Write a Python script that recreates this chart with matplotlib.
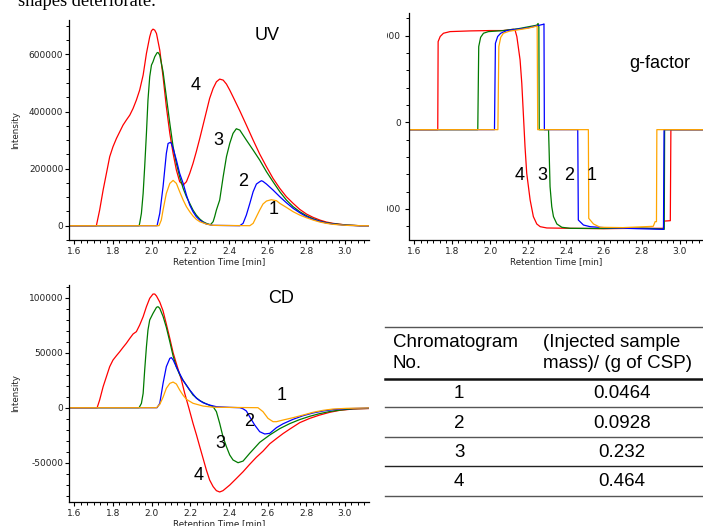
import matplotlib
matplotlib.use("Agg")
import matplotlib.pyplot as plt
from matplotlib.ticker import MultipleLocator, AutoMinorLocator, StrMethodFormatter
from matplotlib.transforms import Bbox, TransformedBbox
from matplotlib.lines import Line2D

plt.rcParams["axes.unicode_minus"] = False

# ---------------- data ----------------
# UV chromatograms (Retention time [min], Intensity)
uv4_t = [1.55, 1.714, 1.731, 1.749, 1.766, 1.783, 1.800, 1.818, 1.835, 1.852, 1.869, 1.887, 1.904,
         1.921, 1.938, 1.956, 1.973, 1.990, 1.999, 2.007, 2.016, 2.025, 2.042, 2.059, 2.076, 2.094,
         2.111, 2.128, 2.145, 2.163, 2.180, 2.197, 2.214, 2.231, 2.249, 2.266, 2.283, 2.300, 2.318,
         2.335, 2.352, 2.370, 2.387, 2.404, 2.421, 2.456, 2.490, 2.525, 2.559, 2.594, 2.628, 2.663,
         2.697, 2.732, 2.766, 2.801, 2.835, 2.870, 2.904, 2.939, 3.008, 3.077, 3.2]
uv4_i = [0, 0, 54800, 124900, 183200, 241600, 276600, 305800, 329100, 352400, 369900, 387400, 410800,
         440000, 475000, 527500, 603300, 661700, 682700, 688500, 685000, 673300, 615000, 521600, 416600,
         323300, 253200, 194900, 154000, 142400, 154000, 183200, 218200, 259100, 305800, 352400, 399100,
         445800, 480800, 504100, 513500, 510000, 496000, 475000, 451600, 402600, 352400, 300000, 250900,
         206600, 165700, 130700, 101500, 78200, 57200, 40800, 29200, 19800, 12800, 8200, 2300, 0, 0]

uv3_t = [1.55, 1.935, 1.938, 1.947, 1.956, 1.964, 1.973, 1.981, 1.990, 1.999, 2.007, 2.016, 2.028,
         2.033, 2.042, 2.059, 2.076, 2.094, 2.111, 2.128, 2.145, 2.163, 2.180, 2.197, 2.214, 2.231,
         2.249, 2.266, 2.283, 2.304, 2.318, 2.326, 2.335, 2.352, 2.370, 2.387, 2.404, 2.421, 2.438,
         2.456, 2.490, 2.525, 2.559, 2.594, 2.628, 2.663, 2.697, 2.732, 2.766, 2.801, 2.835, 2.870,
         2.904, 2.939, 3.008, 3.077, 3.2]
uv3_i = [0, 0, 8200, 43200, 113200, 206600, 323300, 440000, 521600, 562500, 574200, 591700, 605700,
         606800, 597500, 539200, 451600, 358300, 276600, 218200, 171500, 130700, 101500, 78200, 54800,
         37300, 23300, 14000, 8200, 3500, 14000, 31500, 54800, 89900, 171500, 241600, 288100, 323300,
         339600, 334900, 299900, 264900, 229900, 189100, 154000, 119000, 89900, 66500, 49000, 35000,
         24500, 16300, 10500, 7000, 2300, 0, 0]

uv2_t = [1.55, 2.028, 2.042, 2.059, 2.076, 2.085, 2.097, 2.102, 2.111, 2.128, 2.145, 2.163, 2.180,
         2.197, 2.214, 2.231, 2.249, 2.266, 2.283, 2.318, 2.456, 2.473, 2.490, 2.508, 2.525, 2.542,
         2.559, 2.568, 2.576, 2.594, 2.628, 2.663, 2.697, 2.732, 2.766, 2.801, 2.835, 2.870, 2.904,
         2.939, 3.008, 3.077, 3.2]
uv2_i = [0, 0, 43200, 136500, 253200, 288100, 291800, 288200, 270700, 229900, 183200, 148200, 107400,
         72400, 49000, 31500, 19800, 11700, 5800, 1200, 0, 8200, 37300, 78200, 119000, 145900,
         154000, 157500, 155200, 145900, 124900, 101500, 80500, 60700, 45500, 31500, 22200, 15200,
         9300, 5800, 1200, 0, 0]

uv1_t = [1.55, 2.038, 2.050, 2.059, 2.076, 2.094, 2.111, 2.128, 2.145, 2.163, 2.180, 2.197, 2.214,
         2.231, 2.249, 2.283, 2.318, 2.508, 2.525, 2.542, 2.559, 2.576, 2.594, 2.619, 2.646, 2.663,
         2.697, 2.732, 2.766, 2.801, 2.835, 2.870, 2.904, 2.939, 3.008, 3.077, 3.2]
uv1_i = [0, 0, 19800, 54800, 113200, 148200, 158700, 148200, 119000, 89900, 66500, 49000, 33800,
         22200, 14000, 5800, 1200, 0, 8200, 31500, 54800, 75900, 86400, 91000, 87500, 78200,
         64200, 49000, 37300, 28000, 19800, 12800, 8200, 4700, 1200, 0, 0]

# g-factor traces
g4_t = [1.55, 1.724, 1.726, 1.737, 1.754, 1.789, 1.895, 2.000, 2.070, 2.123, 2.132, 2.141, 2.158,
        2.167, 2.176, 2.184, 2.193, 2.202, 2.211, 2.228, 2.246, 2.264, 2.299, 2.422, 2.597, 2.773,
        2.914, 2.916, 2.950, 2.953, 3.2]
g4_v = [-85, -85, 931, 990, 1027, 1046, 1054, 1058, 1058, 1073, 1060, 988, 719,
        450, 65, -281, -588, -742, -896, -1088, -1173, -1204, -1219, -1223, -1227, -1223,
        -1223, -1140, -1135, -85, -85]

g3_t = [1.55, 1.935, 1.940, 1.950, 1.965, 1.991, 2.070, 2.150, 2.246, 2.253, 2.257, 2.259, 2.308,
        2.311, 2.316, 2.325, 2.334, 2.352, 2.378, 2.422, 2.600, 2.800, 2.900, 2.918, 2.920, 3.2]
g3_v = [-85, -85, 873, 980, 1027, 1046, 1058, 1080, 1120, 1140, 1100, -85, -85,
        -319, -742, -973, -1088, -1173, -1211, -1223, -1225, -1220, -1230, -1235, -85, -85]

g2_t = [1.55, 2.023, 2.028, 2.040, 2.056, 2.088, 2.200, 2.281, 2.284, 2.286, 2.462, 2.465, 2.492,
        2.527, 2.600, 2.773, 2.914, 2.917, 3.2]
g2_v = [-85, -85, 911, 990, 1027, 1058, 1090, 1130, 1135, -85, -85, -1127, -1185,
        -1204, -1215, -1227, -1235, -85, -85]

g1_t = [1.55, 2.041, 2.046, 2.056, 2.070, 2.100, 2.200, 2.248, 2.251, 2.518, 2.520, 2.545, 2.580,
        2.700, 2.860, 2.870, 2.877, 2.879, 3.2]
g1_v = [-85, -85, 873, 980, 1027, 1050, 1085, 1110, -85, -85, -1108, -1173, -1211,
        -1215, -1200, -1146, -1146, -85, -85]

# CD chromatograms
cd4_t = [1.55, 1.718, 1.731, 1.749, 1.766, 1.783, 1.800, 1.818, 1.835, 1.852, 1.869, 1.887, 1.904,
         1.921, 1.938, 1.956, 1.973, 1.990, 2.007, 2.016, 2.025, 2.042, 2.059, 2.076, 2.094, 2.111,
         2.128, 2.154, 2.171, 2.193, 2.214, 2.232, 2.249, 2.266, 2.283, 2.300, 2.318, 2.335, 2.352,
         2.369, 2.404, 2.439, 2.473, 2.507, 2.542, 2.576, 2.611, 2.646, 2.680, 2.714, 2.766, 2.818,
         2.869, 2.921, 2.973, 3.042, 3.2]
cd4_i = [0, 0, 7000, 19100, 28200, 37300, 43300, 47300, 50900, 54800, 58500, 63000, 67000,
         69100, 75100, 82700, 91800, 99400, 103300, 103300, 101500, 96000, 88000, 76000, 63000, 50000,
         40000, 25200, 13100, -600, -14200, -24800, -35500, -46000, -56600, -65700, -71700, -75400,
         -76600, -75400, -70300, -64200, -58200, -51500, -45000, -39500, -32800, -28000, -23500,
         -19500, -13600, -9700, -6700, -4200, -2400, -1200, -300]

cd3_t = [1.55, 1.935, 1.947, 1.956, 1.964, 1.973, 1.981, 1.990, 2.007, 2.025, 2.033, 2.042, 2.059,
         2.076, 2.094, 2.111, 2.128, 2.145, 2.162, 2.214, 2.249, 2.283, 2.318, 2.335, 2.352, 2.369,
         2.387, 2.404, 2.421, 2.447, 2.473, 2.507, 2.559, 2.611, 2.663, 2.714, 2.766, 2.818, 2.869,
         2.921, 2.973, 3.042, 3.2]
cd3_i = [0, 0, 3900, 13000, 34200, 55400, 70600, 79700, 85700, 91200, 91800, 90300, 83000,
         73000, 60000, 47000, 37000, 30000, 25000, 11500, 6400, 3400, 900, -3600, -14200, -26400,
         -35500, -43000, -47500, -50000, -48500, -41500, -31500, -24800, -19000, -14500, -10800,
         -7800, -5400, -3500, -2200, -1000, -300]

cd2_t = [1.55, 2.028, 2.042, 2.059, 2.076, 2.094, 2.102, 2.111, 2.128, 2.145, 2.162, 2.197, 2.232,
         2.266, 2.300, 2.335, 2.404, 2.456, 2.473, 2.490, 2.507, 2.533, 2.559, 2.585, 2.611, 2.646,
         2.680, 2.731, 2.783, 2.835, 2.887, 2.938, 3.008, 3.2]
cd2_i = [0, 0, 3900, 22100, 37300, 44800, 45500, 43500, 37000, 31000, 25000, 16100, 8500,
         4500, 2400, 900, 300, 0, -1000, -3000, -8200, -15700, -21800, -23900, -23300, -18100,
         -14600, -10600, -7300, -4800, -3000, -1800, -900, 0]

cd1_t = [1.55, 2.025, 2.042, 2.059, 2.076, 2.094, 2.111, 2.128, 2.145, 2.162, 2.180, 2.214, 2.266,
         2.318, 2.550, 2.576, 2.602, 2.628, 2.646, 2.680, 2.731, 2.783, 2.835, 2.887, 2.938, 3.008,
         3.2]
cd1_i = [0, 0, 3000, 9500, 17600, 22100, 23300, 21500, 16100, 11500, 7600, 4000, 1500,
         400, 0, -3600, -9700, -12700, -12700, -11200, -9100, -6700, -4200, -2400, -1200, -600,
         0]

run_labels = ["1", "2", "3", "4"]
run_colors = ["#ffa500", "#0000ff", "#007a00", "#ff0000"]
table_header = [["Chromatogram", "No."], ["(Injected sample", "mass)/ (g of CSP)"]]
table_no = ["1", "2", "3", "4"]
table_mass = ["0.0464", "0.0928", "0.232", "0.464"]

# ---------------- figure ----------------
W, H = 703, 526
fig = plt.figure(figsize=(W / 100, H / 100), dpi=100)
XLIM = (1.574, 3.126)
SMALL = 6.3
TICK = 6.5
SANS = "Liberation Sans"


def rect(l, t, r, b):
    return [l / W, 1 - b / H, (r - l) / W, (b - t) / H]


def fxy(x, y):
    return x / W, 1 - y / H


def style(ax, ylim, ymajor, nminor, ypad):
    ax.set_xlim(*XLIM)
    ax.set_ylim(*ylim)
    for s in ("top", "right"):
        ax.spines[s].set_visible(False)
    for s in ("left", "bottom"):
        ax.spines[s].set_linewidth(0.9)
    ax.xaxis.set_major_locator(MultipleLocator(0.2))
    ax.xaxis.set_minor_locator(AutoMinorLocator(6))
    ax.yaxis.set_major_locator(MultipleLocator(ymajor))
    ax.yaxis.set_minor_locator(AutoMinorLocator(nminor))
    ax.xaxis.set_major_formatter(StrMethodFormatter("{x:.1f}"))
    ax.yaxis.set_major_formatter(StrMethodFormatter("{x:.0f}"))
    ax.tick_params(which="major", length=3, width=0.8, labelsize=TICK, labelcolor="#222222")
    ax.tick_params(which="minor", length=2, width=0.7)
    ax.tick_params(axis="y", which="major", pad=ypad)
    ax.tick_params(axis="x", which="major", pad=2.3)
    ax.set_xlabel("Retention Time [min]", fontsize=SMALL, labelpad=0.8, color="#222222")
    ax.patch.set_visible(False)


def plot_runs(ax, series):
    for (t, v), c in zip(series, run_colors[::-1]):
        ax.plot(t, v, color=c, lw=0.9)


# UV panel
ax_uv = fig.add_axes(rect(69.3, 20, 369.3, 240))
plot_runs(ax_uv, [(uv4_t, uv4_i), (uv3_t, uv3_i), (uv2_t, uv2_i), (uv1_t, uv1_i)])
style(ax_uv, (-50100, 720500), 200000, 4, 1.3)

# g-factor panel
ax_g = fig.add_axes(rect(409.3, 12.7, 703.7, 239.5))
plot_runs(ax_g, [(g4_t, g4_v), (g3_t, g3_v), (g2_t, g2_v), (g1_t, g1_v)])
style(ax_g, (-1352, 1264), 1000, 5, 3.2)
clip = TransformedBbox(Bbox.from_extents(387 / W, 0, 1, 1), fig.transFigure)
for tk in ax_g.yaxis.get_major_ticks():
    tk.label1.set_clip_box(clip)
    tk.label1.set_clip_on(True)

# CD panel
ax_cd = fig.add_axes(rect(69.3, 285, 369.3, 502))
plot_runs(ax_cd, [(cd4_t, cd4_i), (cd3_t, cd3_i), (cd2_t, cd2_i), (cd1_t, cd1_i)])
style(ax_cd, (-85700, 111500), 50000, 5, 1.3)

# y labels
for yc in (130, 393.5):
    fig.text(*fxy(16, yc), "Intensity", rotation=90, ha="center", va="center",
             fontsize=SMALL, color="#222222")

# panel titles
fig.text(*fxy(267, 36), "UV", ha="center", va="center", fontsize=13, family=SANS)
fig.text(*fxy(660, 63.5), "g-factor", ha="center", va="center", fontsize=13, family=SANS)
fig.text(*fxy(281, 298.5), "CD", ha="center", va="center", fontsize=13, family=SANS)

# curve numbers
num_pos = {
    "uv": [(274, 209.3), (242.7, 181.7), (218.3, 140), (196, 86)],
    "g": [(591.7, 175), (569, 175), (542.7, 175), (520, 175)],
    "cd": [(281.7, 396), (249.3, 421.7), (220, 443.3), (198.3, 476)],
}
for key, pts in num_pos.items():
    for lab, (x, y) in zip(run_labels, pts):
        fig.text(*fxy(x, y), lab, ha="center", va="center", fontsize=13, family=SANS)

# caption fragment at top
fig.text(18.3 / W, 1 - 5.5 / H, "shapes deteriorate.", ha="left", va="baseline",
         fontsize=13.3, family="Liberation Serif")

# table
TX0, TX1 = 385, 703
rule_y = [326.7, 378.7, 407.3, 436.7, 465.7, 495.7]
rule_w = [1.0, 1.8, 1.0, 1.0, 1.0, 1.0]
rule_c = ["#555555", "#111111", "#555555", "#555555", "#222222", "#555555"]
for y, lw, c in zip(rule_y, rule_w, rule_c):
    fig.add_artist(Line2D([TX0 / W, TX1 / W], [1 - y / H, 1 - y / H],
                          transform=fig.transFigure, color=c, lw=lw))
TFS = 13.5
for col_x, lines in zip((392.7, 542.7), table_header):
    for y, line in zip((342.7, 364), lines):
        fig.text(*fxy(col_x, y), line, ha="left", va="center", fontsize=TFS, family=SANS)
row_y = [394, 423.3, 452.7, 481.7]
for no, m, y in zip(table_no, table_mass, row_y):
    fig.text(*fxy(459.3, y), no, ha="center", va="center", fontsize=TFS, family=SANS)
    fig.text(*fxy(621.7, y), m, ha="center", va="center", fontsize=TFS, family=SANS)

fig.savefig("out.png", dpi=100)
